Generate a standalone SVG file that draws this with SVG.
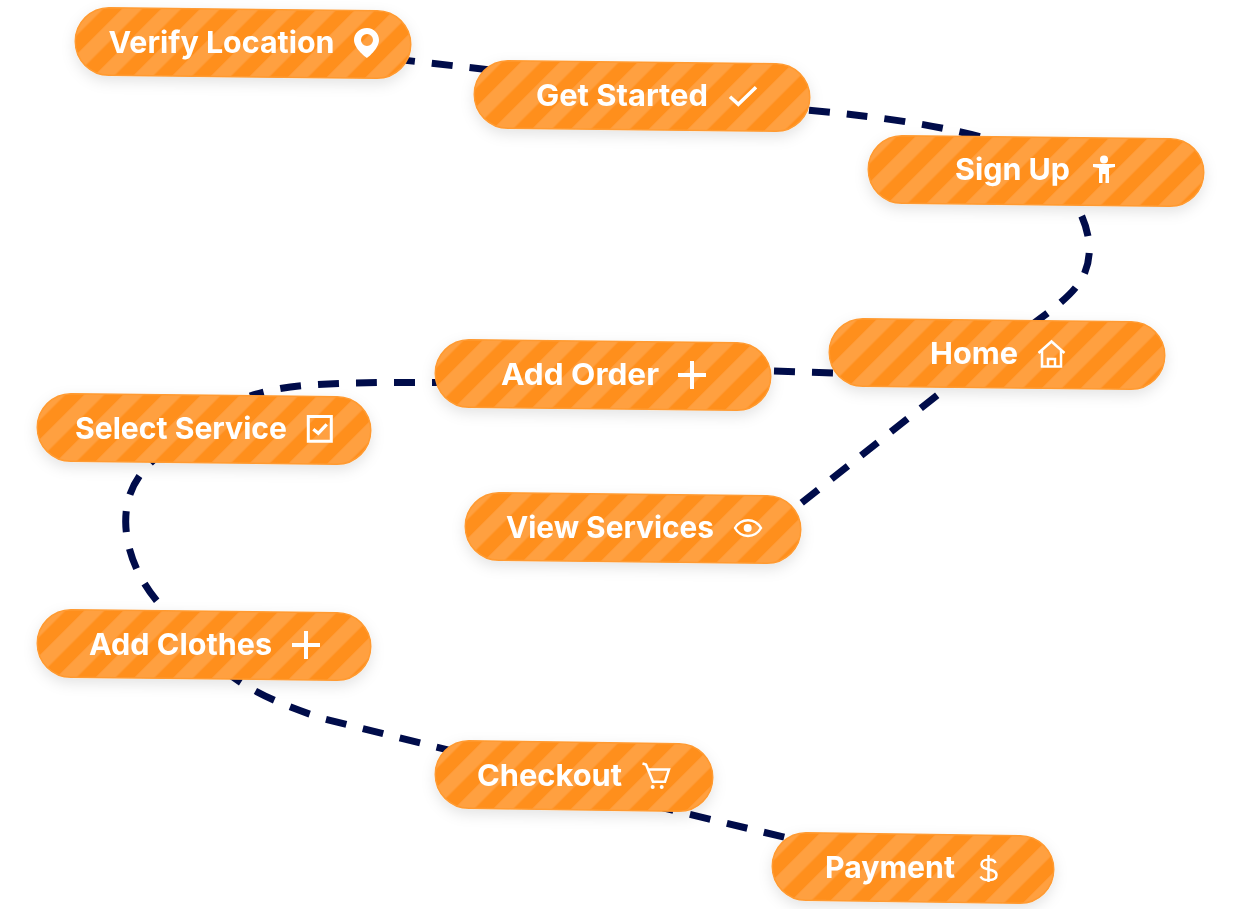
<svg xmlns="http://www.w3.org/2000/svg" width="1241" height="909" viewBox="0 0 1241 909">
<style>
.st{fill:url(#stripes);stroke:#ff9a30;stroke-width:1.5}
.lb{font-family:"Inter","Liberation Sans",sans-serif;font-weight:700;font-size:30px;fill:#fff}
.ic{fill:none;stroke:#fff;stroke-width:3;stroke-linejoin:miter}
.icf{fill:#fff;stroke:none}
.cn{fill:none;stroke:#000c4a;stroke-width:7;stroke-dasharray:21 17}
</style>
<defs>
<pattern id="stripes" patternUnits="userSpaceOnUse" width="27.58" height="40" patternTransform="rotate(45)">
<rect width="27.58" height="40" fill="#ff8f1c"/>
<rect x="7.07" width="14.14" height="40" fill="#ffa040"/>
</pattern>
<filter id="sh" x="-10%" y="-30%" width="120%" height="170%"><feDropShadow dx="0" dy="5" stdDeviation="7" flood-color="#000" flood-opacity="0.11"/></filter>
</defs>
<g id="connectors">
<path class="cn" d="M394 59L500 71"/>
<path class="cn" d="M809 110.300C860 115 925 122 985 138"/>
<path class="cn" d="M1081.700 216C1090 235 1092 255 1085 272C1078 290 1060 305 1020 333"/>
<path class="cn" d="M801.700 502.700L950 385"/>
<path class="cn" d="M774 371L850 373.500"/>
<path class="cn" d="M453 382.500L394 382.500C368 382.500 343 383 318 384.500C290 386 268 390 250 396"/>
<path class="cn" d="M156.700 600.700C138 578 126 550 125.700 522C125.500 490 140 470 165 450"/>
<path class="cn" d="M224 670C250 692 285 706 323 718.600L460 753"/>
<path class="cn" d="M653 805.400L800 841"/>
</g>
<g id="verify-location" transform="translate(75 7)" filter="url(#sh)">
<path class="st" d="M34 .75L302 3.750A33.750 33.750 0 0 1 302 71.250L34 68.250A33.750 33.750 0 0 1 34 .75Z"/>
<text class="lb" x="33.500" y="45.500" textLength="226" lengthAdjust="spacingAndGlyphs">Verify Location</text>
<path class="icf" fill-rule="evenodd" d="M292 21C284 21 279 27 279 33C279 42 292 51 292 51C292 51 304 42 304 33C304 27 299 21 292 21ZM292 27A6 6 0 1 1 292 39A6 6 0 1 1 292 27Z"/>
</g>
<g id="get-started" transform="translate(474 60)" filter="url(#sh)">
<path class="st" d="M34 .75L302 3.750A33.750 33.750 0 0 1 302 71.250L34 68.250A33.750 33.750 0 0 1 34 .75Z"/>
<text class="lb" x="62" y="46" textLength="172" lengthAdjust="spacingAndGlyphs">Get Started</text>
<path class="ic" style="stroke-width:3.500" d="M256 36.700L264.300 44.300L282 27.300"/>
</g>
<g id="sign-up" transform="translate(868 135)" filter="url(#sh)">
<path class="st" d="M34 .75L302 3.750A33.750 33.750 0 0 1 302 71.250L34 68.250A33.750 33.750 0 0 1 34 .75Z"/>
<text class="lb" x="87" y="45" textLength="115" lengthAdjust="spacingAndGlyphs">Sign Up</text>
<circle class="icf" cx="236" cy="24.500" r="4"/>
<path class="icf" d="M225 29H247V32L241 33V48H237.500V39H234.500V48H231V33L225 32Z"/>
</g>
<g id="home" transform="translate(829 318)" filter="url(#sh)">
<path class="st" d="M34 .75L302 3.750A33.750 33.750 0 0 1 302 71.250L34 68.250A33.750 33.750 0 0 1 34 .75Z"/>
<text class="lb" x="101" y="46" textLength="88" lengthAdjust="spacingAndGlyphs">Home</text>
<path class="ic" style="stroke-width:2.500" d="M209.500 35L222.500 23.500L235.500 35M213 32V48.500H232V32M219 48.500V41H226V48.500"/>
</g>
<g id="add-order" transform="translate(435 339)" filter="url(#sh)">
<path class="st" d="M34 .75L302 3.750A33.750 33.750 0 0 1 302 71.250L34 68.250A33.750 33.750 0 0 1 34 .75Z"/>
<text class="lb" x="66" y="46" textLength="158" lengthAdjust="spacingAndGlyphs">Add Order</text>
<path class="ic" style="stroke-width:4" d="M257 22V50M243 36H271"/>
</g>
<g id="select-service" transform="translate(37 393)" filter="url(#sh)">
<path class="st" d="M34 .75L300 3.750A33.750 33.750 0 0 1 300 71.250L34 68.250A33.750 33.750 0 0 1 34 .75Z"/>
<text class="lb" x="38" y="46" textLength="212" lengthAdjust="spacingAndGlyphs">Select Service</text>
<path class="ic" d="M271.300 23.500H294.300V48.200H271.300Z"/>
<path class="ic" style="stroke-width:3.300" d="M276.300 36.300L281.300 40.300L289.700 31.300"/>
</g>
<g id="view-services" transform="translate(465 492)" filter="url(#sh)">
<path class="st" d="M34 .75L302 3.750A33.750 33.750 0 0 1 302 71.250L34 68.250A33.750 33.750 0 0 1 34 .75Z"/>
<text class="lb" x="41" y="46" textLength="208" lengthAdjust="spacingAndGlyphs">View Services</text>
<path class="ic" style="stroke-width:2.500" d="M270 36C276 25.500 290 25.500 296 36C290 46.500 276 46.500 270 36Z"/>
<circle class="icf" cx="282.700" cy="36" r="4"/>
</g>
<g id="add-clothes" transform="translate(37 609)" filter="url(#sh)">
<path class="st" d="M34 .75L300 3.750A33.750 33.750 0 0 1 300 71.250L34 68.250A33.750 33.750 0 0 1 34 .75Z"/>
<text class="lb" x="52" y="46" textLength="183" lengthAdjust="spacingAndGlyphs">Add Clothes</text>
<path class="ic" style="stroke-width:4" d="M269 22V50M255 36H283"/>
</g>
<g id="checkout" transform="translate(435 740)" filter="url(#sh)">
<path class="st" d="M34 .75L244 3.750A33.750 33.750 0 0 1 244 71.250L34 68.250A33.750 33.750 0 0 1 34 .75Z"/>
<text class="lb" x="42" y="46" textLength="145" lengthAdjust="spacingAndGlyphs">Checkout</text>
<path class="ic" style="stroke-width:2.500" d="M207.500 23.500L211 24.500L218 41.700H230L234 29.500H213"/>
<circle class="icf" cx="217.700" cy="47" r="2"/><circle class="icf" cx="226.700" cy="47" r="2"/>
</g>
<g id="payment" transform="translate(772 832)" filter="url(#sh)">
<path class="st" d="M34 .75L248 3.750A33.750 33.750 0 0 1 248 71.250L34 68.250A33.750 33.750 0 0 1 34 .75Z"/>
<text class="lb" x="53" y="46" textLength="130" lengthAdjust="spacingAndGlyphs">Payment</text>
<path class="ic" style="stroke-width:2.500" d="M223.500 31C222 26.500 209.500 26 209.500 32.500C209.500 39.500 224.500 35.500 224.500 43C224.500 49.500 211 49.500 208.500 44.500M216.500 23V50"/>
</g>
</svg>
